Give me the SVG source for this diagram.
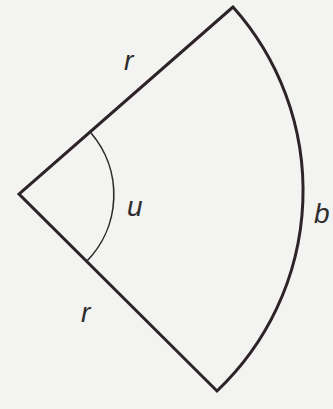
<svg xmlns="http://www.w3.org/2000/svg" width="333" height="409" viewBox="0 0 333 409">
<style>
.edge{fill:none;stroke:#2e2428;stroke-width:3;stroke-linejoin:miter}
.ang{fill:none;stroke:#2a2a2a;stroke-width:1.6}
.lbl{font-family:"Liberation Sans",Arial,sans-serif;font-style:italic;font-size:28px;fill:#2e2e2e}
</style>
<rect width="333" height="409" fill="#f3f3f1"/>
<g id="sector">
<path class="edge" d="M233,7 L19,194 L217,391 A276,276 0 0 0 233,7 Z"/>
</g>
<g id="angle">
<path class="ang" d="M91,133 A95,95 0 0 1 86,262"/>
</g>
<g id="labels">
<text class="lbl" x="124" y="70">r</text>
<text class="lbl" x="127" y="216">u</text>
<text class="lbl" x="81" y="322">r</text>
<text class="lbl" x="314" y="223">b</text>
</g>
</svg>
